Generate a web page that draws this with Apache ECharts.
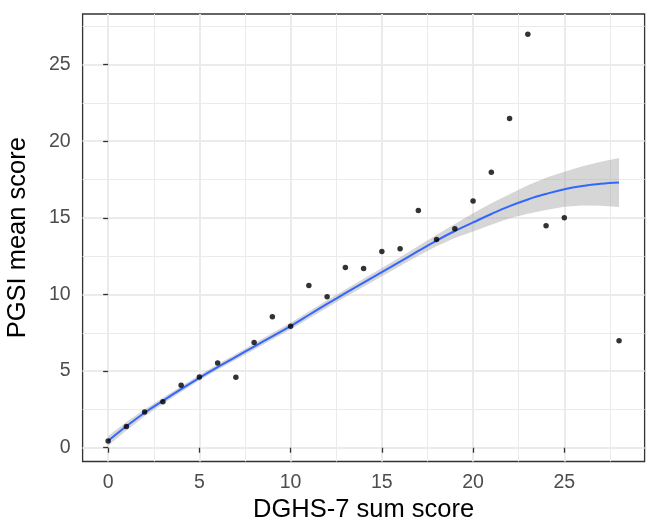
<!DOCTYPE html>
<html>
<head>
<meta charset="utf-8">
<script src="https://cdn.jsdelivr.net/npm/echarts@6/dist/echarts.min.js"></script>
<style>
  html, body { margin: 0; padding: 0; background: #fff; }
  #main { width: 646px; height: 521px; }
</style>
</head>
<body>
<div id="main"></div>
<script>
// observed means per DGHS-7 score
const scoreX = [0, 1, 2, 3, 4, 5, 6, 7, 8, 9, 10, 11, 12, 13, 14, 15, 16, 17, 18, 19, 20, 21, 22, 23, 24, 25, 28];
const pgsiMean = [0.43, 1.39, 2.33, 3.0, 4.07, 4.61, 5.52, 4.59, 6.87, 8.54, 7.93, 10.59, 9.85, 11.76, 11.7, 12.8, 12.98, 15.48, 13.59, 14.28, 16.09, 17.98, 21.48, 26.98, 14.48, 15.0, 6.98];

// smoothed fit and its confidence band
const fitX = [0, 1, 2, 3, 4, 5, 6, 7, 8, 9, 10, 11, 12, 13, 14, 15, 16, 17, 18, 19, 20, 21, 22, 23, 24, 25, 26, 27, 28];
const fitY = [0.45, 1.4, 2.28, 3.06, 3.82, 4.56, 5.26, 5.93, 6.6, 7.27, 7.94, 8.66, 9.38, 10.08, 10.77, 11.45, 12.14, 12.84, 13.52, 14.14, 14.7, 15.25, 15.76, 16.2, 16.56, 16.87, 17.08, 17.22, 17.3];
const fitLow = [0.13, 1.13, 2.05, 2.86, 3.63, 4.38, 5.08, 5.74, 6.4, 7.06, 7.72, 8.43, 9.14, 9.83, 10.51, 11.18, 11.85, 12.52, 13.15, 13.69, 14.1, 14.55, 14.98, 15.27, 15.51, 15.73, 15.8, 15.78, 15.7];
const fitHigh = [0.77, 1.67, 2.51, 3.26, 4.01, 4.74, 5.44, 6.12, 6.8, 7.48, 8.16, 8.89, 9.62, 10.33, 11.03, 11.72, 12.43, 13.16, 13.89, 14.59, 15.3, 15.95, 16.54, 17.13, 17.61, 18.01, 18.36, 18.66, 18.9];

// axis ticks
const xMajor = [0, 5, 10, 15, 20, 25];
const xMinor = [2.5, 7.5, 12.5, 17.5, 22.5, 27.5];
const yMajor = [0, 5, 10, 15, 20, 25];
const yMinor = [2.5, 7.5, 12.5, 17.5, 22.5, 27.5];

var myChart = echarts.init(document.getElementById('main'));

var gridLines = [];
xMinor.forEach(function (v) { gridLines.push({ xAxis: v, lineStyle: { width: 1 } }); });
yMinor.forEach(function (v) { gridLines.push({ yAxis: v, lineStyle: { width: 1 } }); });
xMajor.forEach(function (v) { gridLines.push({ xAxis: v, lineStyle: { width: 2 } }); });
yMajor.forEach(function (v) { gridLines.push({ yAxis: v, lineStyle: { width: 2 } }); });

var option = {
    backgroundColor: '#ffffff',
    animation: false,
    grid: {
        show: true,
        left: 82.6,
        right: 1.4,
        top: 14,
        bottom: 59.5,
        outerBoundsMode: 'none',
        borderColor: '#333333',
        borderWidth: 1.3,
        backgroundColor: '#ffffff'
    },
    xAxis: {
        type: 'value',
        min: -1.4,
        max: 29.4,
        name: 'DGHS-7 sum score',
        nameLocation: 'middle',
        nameGap: 33,
        nameTextStyle: { fontFamily: 'Liberation Sans', fontSize: 25.5, color: '#000' },
        axisLine: { show: false },
        axisTick: { show: true, length: 5, customValues: xMajor, lineStyle: { color: '#333333', width: 1.3 } },
        axisLabel: { customValues: xMajor, margin: 11, fontFamily: 'Liberation Sans', fontSize: 19.5, color: '#4D4D4D' },
        splitLine: { show: false }
    },
    yAxis: {
        type: 'value',
        min: -0.9,
        max: 28.3,
        name: 'PGSI mean score',
        nameLocation: 'middle',
        nameGap: 52,
        nameTextStyle: { fontFamily: 'Liberation Sans', fontSize: 25.5, color: '#000' },
        axisLine: { show: false },
        axisTick: { show: true, length: 5, customValues: yMajor, lineStyle: { color: '#333333', width: 1.3 } },
        axisLabel: { customValues: yMajor, margin: 12, fontFamily: 'Liberation Sans', fontSize: 19.5, color: '#4D4D4D' },
        splitLine: { show: false }
    },
    series: [
        {
            // panel grid lines, kept under everything else
            type: 'line',
            data: [],
            z: 0,
            silent: true,
            markLine: {
                z: 0,
                silent: true,
                symbol: 'none',
                label: { show: false },
                lineStyle: { color: '#EBEBEB', type: 'solid' },
                data: gridLines
            }
        },
        {
            // confidence band
            type: 'custom',
            z: 2,
            silent: true,
            data: fitX.map(function (x, i) { return [x, fitLow[i], fitHigh[i]]; }),
            encode: { x: 0, y: [1, 2] },
            renderItem: function (params, api) {
                if (params.dataIndex !== 0) return;
                var pts = [];
                for (var i = 0; i < fitX.length; i++) pts.push(api.coord([fitX[i], fitHigh[i]]));
                for (var j = fitX.length - 1; j >= 0; j--) pts.push(api.coord([fitX[j], fitLow[j]]));
                return {
                    type: 'polygon',
                    shape: { points: pts },
                    style: { fill: 'rgba(153,153,153,0.4)', stroke: 'none' }
                };
            }
        },
        {
            // smooth fit
            type: 'line',
            z: 3,
            smooth: 0.4,
            symbol: 'none',
            data: fitX.map(function (x, i) { return [x, fitY[i]]; }),
            lineStyle: { color: '#3366FF', width: 2 }
        },
        {
            type: 'scatter',
            z: 4,
            symbolSize: 5.5,
            itemStyle: { color: '#000000' },
            data: scoreX.map(function (x, i) { return [x, pgsiMean[i]]; })
        }
    ]
};
myChart.setOption(option);
</script>
</body>
</html>
